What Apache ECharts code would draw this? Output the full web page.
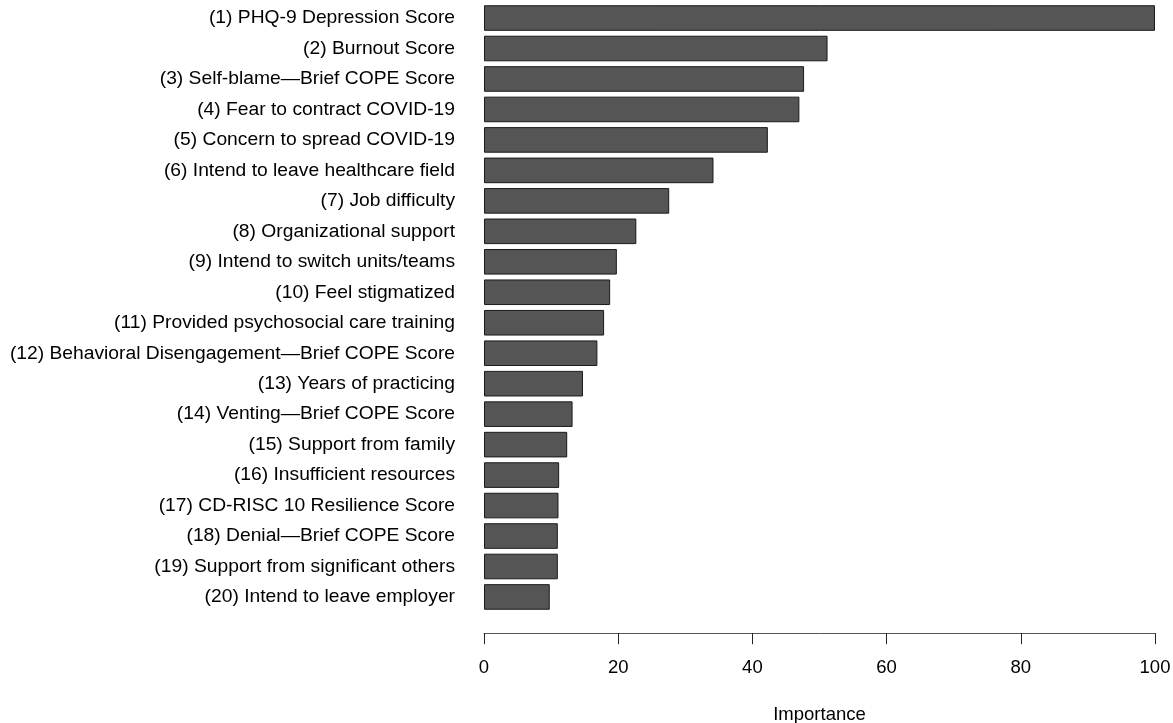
<!DOCTYPE html>
<html>
<head>
<meta charset="utf-8">
<script src="https://cdn.jsdelivr.net/npm/echarts@6/dist/echarts.min.js"></script>
<style>html,body{margin:0;padding:0;background:#fff;}#c{width:1173px;height:723px;}</style>
</head>
<body>
<div id="c"></div>
<script>
const categories = [
  "(1) PHQ-9 Depression Score",
  "(2) Burnout Score",
  "(3) Self-blame\u2014Brief COPE Score",
  "(4) Fear to contract COVID-19",
  "(5) Concern to spread COVID-19",
  "(6) Intend to leave healthcare field",
  "(7) Job difficulty",
  "(8) Organizational support",
  "(9) Intend to switch units/teams",
  "(10) Feel stigmatized",
  "(11) Provided psychosocial care training",
  "(12) Behavioral Disengagement\u2014Brief COPE Score",
  "(13) Years of practicing",
  "(14) Venting\u2014Brief COPE Score",
  "(15) Support from family",
  "(16) Insufficient resources",
  "(17) CD-RISC 10 Resilience Score",
  "(18) Denial\u2014Brief COPE Score",
  "(19) Support from significant others",
  "(20) Intend to leave employer"
];
const importance = [100, 51.2, 47.7, 47.0, 42.3, 34.2, 27.6, 22.7, 19.8, 18.8, 17.9, 16.9, 14.75, 13.2, 12.4, 11.2, 11.1, 11.0, 11.0, 9.8];
const xTicks = [0, 20, 40, 60, 80, 100];

const chart = echarts.init(document.getElementById('c'), null, {renderer: 'canvas'});
const font = '"Liberation Sans", Arial, Helvetica, sans-serif';
chart.setOption({
  animation: false,
  backgroundColor: '#ffffff',
  grid: {left: 484, right: 18, top: 2.8, bottom: 723 - 612.2, containLabel: false, outerBoundsMode: 'none'},
  xAxis: {
    type: 'value', min: xTicks[0], max: xTicks[xTicks.length - 1], interval: 20,
    position: 'bottom', offset: 21,
    name: 'Importance', nameLocation: 'middle', nameGap: 72,
    nameTextStyle: {fontFamily: font, fontSize: 18.5, color: '#000'},
    axisLine: {show: true, lineStyle: {color: '#555', width: 1}},
    axisTick: {show: true, length: 11, lineStyle: {color: '#222', width: 1}},
    axisLabel: {fontFamily: font, fontSize: 18.5, color: '#000', margin: 25},
    splitLine: {show: false}
  },
  yAxis: {
    type: 'category', data: categories, inverse: true,
    axisLine: {show: false}, axisTick: {show: false},
    axisLabel: {fontFamily: font, fontSize: 19.25, color: '#000', margin: 29}
  },
  series: [{
    type: 'bar', data: importance, barCategoryGap: '16%',
    itemStyle: {color: '#555555', borderColor: '#1a1a1a', borderWidth: 1}
  }]
});
</script>
</body>
</html>
